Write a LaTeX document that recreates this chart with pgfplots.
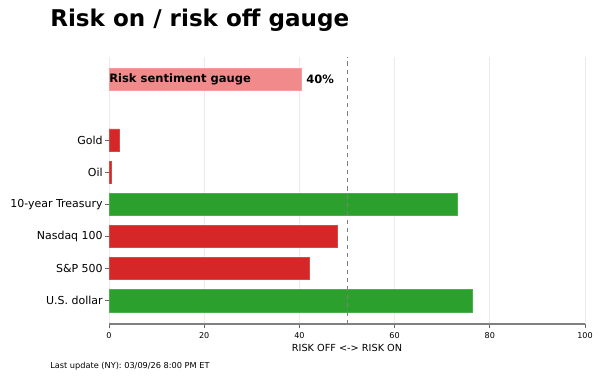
\documentclass[border=0pt]{standalone}
\usepackage{fontspec}
\setmainfont{DejaVu Sans}
\usepackage{pgfplots}
\pgfplotsset{compat=1.18}
\definecolor{tabred}{HTML}{D62728}
\definecolor{tabgreen}{HTML}{2CA02C}
\definecolor{gaugecol}{HTML}{F08A8B}
\definecolor{spine}{HTML}{808080}
\begin{document}
\begin{tikzpicture}[x=1pt,y=1pt]
\useasboundingbox (-78.5,-37.44) rectangle (353.5,233.28);
\begin{axis}[
  at={(0,0)}, anchor=south west, scale only axis,
  width=342.7pt, height=192.2pt,
  xmin=0, xmax=100, ymin=-0.73, ymax=7.59,
  axis x line*=bottom, axis y line*=left,
  separate axis lines,
  x axis line style={spine, line width=1.1pt, -},
  y axis line style={draw=none},
  xtick={0,20,...,100},
  ytick={0,1,2,3,4,5},
  yticklabels={U.S. dollar, S\&P 500, Nasdaq 100, 10-year Treasury, Oil, Gold},
  tick align=outside,
  major tick length=2.9pt,
  tick style={black!60, line width=0.6pt},
  xticklabel style={font=\fontsize{5.8}{7}\selectfont},
  yticklabel style={font=\fontsize{7.9}{9}\selectfont, inner sep=1.5pt},
  xlabel={RISK OFF <-> RISK ON},
  xlabel style={font=\fontsize{7}{8}\selectfont, yshift=2.8pt},
  xmajorgrids,
  grid style={black!8, line width=0.5pt},
  /pgf/number format/assume math mode=true,
  clip=false,
]
\addplot[xbar, bar width=0.7, bar shift=0pt, fill=tabred, draw=tabred!85!white, line width=0.4pt]
  coordinates {(2.1,5) (0.5,4) (47.9,2) (42.0,1)};
\addplot[xbar, bar width=0.7, bar shift=0pt, fill=tabgreen, draw=tabgreen!85!white, line width=0.4pt]
  coordinates {(73.1,3) (76.4,0)};
\addplot[xbar, bar width=0.7, bar shift=0pt, fill=gaugecol, draw=gaugecol!85!white, line width=0.4pt]
  coordinates {(40.3,6.89)};
\addplot[gray, dashed, line width=0.6pt] coordinates {(50,-0.73) (50,7.59)};
\node[anchor=west, inner sep=0pt, font=\fontsize{8.3}{10}\selectfont\bfseries] at (axis cs:0,6.89) {Risk sentiment gauge};
\node[anchor=west, inner sep=0pt, font=\fontsize{8.3}{10}\selectfont\bfseries] at (axis cs:41.4,6.89) {40\%};
\end{axis}
\node[anchor=base west, inner sep=0pt, font=\fontsize{16.6}{20}\selectfont\bfseries] at (-42.5,213.84) {Risk on / risk off gauge};
\node[anchor=base west, inner sep=0pt, font=\fontsize{5.9}{7}\selectfont] at (-42.5,-31.74) {Last update (NY): 03/09/26 8:00 PM ET};
\end{tikzpicture}
\end{document}
